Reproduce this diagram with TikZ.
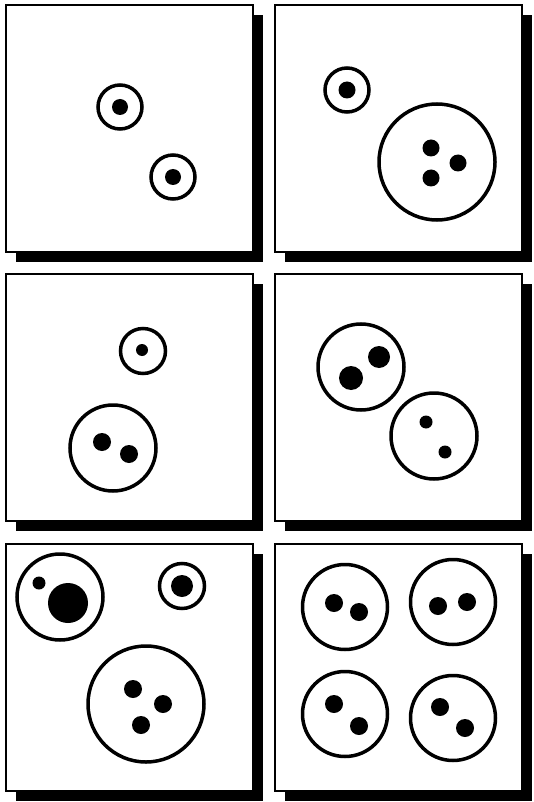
\documentclass[tikz,border=0pt]{standalone}
\begin{document}
\begin{tikzpicture}[
  x=1pt, y=-1pt,
  panel/.style={draw,fill=white,line width=1.2pt},
  shadow/.style={fill=black},
  cell/.style={draw,fill=white,line width=3.5pt},
  dot/.style={fill=black}]
\useasboundingbox (0,0) rectangle (533,802);
% panels with their drop shadows
\foreach \px/\py in {6/5, 275/5, 6/274, 275/274, 6/544, 275/544} {
  \fill[shadow] (\px+10,\py+10) rectangle ++(247,247);
  \draw[panel] (\px,\py) rectangle ++(247,247);
}
% panel 1
\draw[cell] (120,107) circle[radius=22pt];
\fill[dot] (120,107) circle[radius=8pt];
\draw[cell] (173,177) circle[radius=22pt];
\fill[dot] (173,177) circle[radius=8pt];
% panel 2
\draw[cell] (347,90) circle[radius=22pt];
\fill[dot] (347,90) circle[radius=8.5pt];
\draw[cell] (437,162) circle[radius=58pt];
\foreach \dx/\dy in {431/148, 458/163, 431/178}
  \fill[dot] (\dx,\dy) circle[radius=8.5pt];
% panel 3
\draw[cell] (143,351) circle[radius=22.5pt];
\fill[dot] (142,350) circle[radius=6pt];
\draw[cell] (113,448) circle[radius=43pt];
\foreach \dx/\dy in {102/442, 129/454}
  \fill[dot] (\dx,\dy) circle[radius=9pt];
% panel 4
\draw[cell] (361,367) circle[radius=43pt];
\fill[dot] (379,357) circle[radius=11pt];
\fill[dot] (351,378) circle[radius=12pt];
\draw[cell] (434,436) circle[radius=43pt];
\foreach \dx/\dy in {426/422, 445/452}
  \fill[dot] (\dx,\dy) circle[radius=6.5pt];
% panel 5
\draw[cell] (60,597) circle[radius=43pt];
\fill[dot] (68,603) circle[radius=20pt];
\fill[dot] (39,583) circle[radius=6.5pt];
\draw[cell] (182,586) circle[radius=22.5pt];
\fill[dot] (182,586) circle[radius=11pt];
\draw[cell] (146,704) circle[radius=58pt];
\foreach \dx/\dy in {133/689, 163/704, 141/725}
  \fill[dot] (\dx,\dy) circle[radius=9pt];
% panel 6
\foreach \cx/\cy in {345/607, 453/602, 345/714, 453/718}
  \draw[cell] (\cx,\cy) circle[radius=42.5pt];
\foreach \dx/\dy in {334/603, 359/612, 438/606, 467/602,
                     334/704, 359/726, 440/707, 465/728}
  \fill[dot] (\dx,\dy) circle[radius=9pt];
\end{tikzpicture}
\end{document}
